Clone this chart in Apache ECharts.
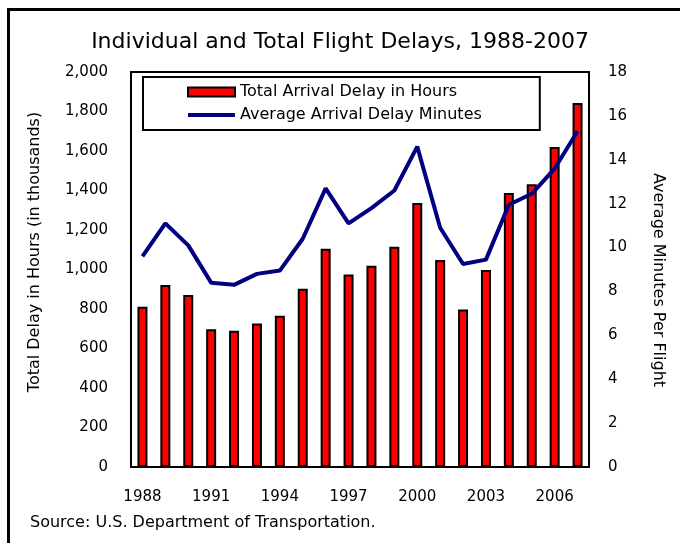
<!DOCTYPE html>
<html>
<head>
<meta charset="utf-8">
<title>Individual and Total Flight Delays, 1988-2007</title>
<script src="https://cdn.jsdelivr.net/npm/echarts@6/dist/echarts.min.js"></script>
<style>
  html, body { margin: 0; padding: 0; background: #fff; }
  .delay-wrap { position: relative; width: 680px; height: 543px; }
  #delay-chart { width: 680px; height: 543px; }
  /* frame of the original picture: only the top and left edges are visible */
  .delay-frame {
    position: absolute; left: 7px; top: 8px; width: 700px; height: 600px;
    border-left: 3px solid #000; border-top: 3px solid #000;
    pointer-events: none;
  }
</style>
</head>
<body>
<div class="delay-wrap">
  <div id="delay-chart"></div>
  <div class="delay-frame"></div>
</div>
<script>
// years on the x axis
const years = ['1988', '1989', '1990', '1991', '1992', '1993', '1994', '1995', '1996', '1997',
  '1998', '1999', '2000', '2001', '2002', '2003', '2004', '2005', '2006', '2007']
// total arrival delay, thousands of hours (bars, left axis)
const totalDelayHours = [812, 921, 871, 697, 690, 727, 766, 903, 1105, 975,
  1019, 1115, 1337, 1048, 797, 998, 1387, 1432, 1620, 1843]
// average arrival delay, minutes per flight (line, right axis)
const avgDelayMinutes = [9.6, 11.1, 10.1, 8.4, 8.3, 8.8, 8.95, 10.4, 12.7, 11.1,
  11.8, 12.6, 14.6, 10.9, 9.25, 9.45, 11.95, 12.45, 13.6, 15.3]

const font = 'DejaVu Sans, sans-serif'

const chart = echarts.init(document.getElementById('delay-chart'))
const option = {
  backgroundColor: '#fff',
  animation: false,
  textStyle: { fontFamily: font, color: '#000' },
  title: {
    text: 'Individual and Total Flight Delays, 1988-2007',
    left: 'center',
    top: 26,
    textStyle: { fontFamily: font, fontSize: 22, fontWeight: 'normal', color: '#000' }
  },
  legend: {
    data: [
      { name: 'Total Arrival Delay in Hours', icon: 'rect' },
      { name: 'Average Arrival Delay Minutes', icon: 'path://M0 0H47V4H0Z' }
    ],
    orient: 'vertical',
    left: 143,
    top: 77,
    padding: [7, 58, 7, 44],
    itemGap: 7,
    itemWidth: 47,
    itemHeight: 9,
    borderColor: '#000',
    borderWidth: 2,
    backgroundColor: '#fff',
    textStyle: { fontFamily: font, fontSize: 16, color: '#000' }
  },
  grid: {
    left: 131,
    right: 91,
    top: 72,
    bottom: 76,
    show: true,
    borderColor: '#000',
    borderWidth: 2,
    backgroundColor: '#fff'
  },
  xAxis: {
    type: 'category',
    data: years,
    axisLine: { lineStyle: { color: '#000', width: 2 } },
    axisTick: { show: false },
    axisLabel: { interval: 2, margin: 23, fontSize: 15, color: '#000', fontFamily: font }
  },
  yAxis: [
    {
      type: 'value',
      min: 0,
      max: 2000,
      interval: 200,
      axisLine: { show: false },
      axisTick: { show: false },
      splitLine: { show: false },
      axisLabel: {
        margin: 23,
        fontSize: 15,
        color: '#000',
        fontFamily: font,
        formatter(v) {
          return v >= 1000 ? Math.floor(v / 1000) + ',' + String(v % 1000).padStart(3, '0') : String(v)
        }
      }
    },
    {
      type: 'value',
      min: 0,
      max: 18,
      interval: 2,
      axisLine: { show: false },
      axisTick: { show: false },
      splitLine: { show: false },
      axisLabel: { margin: 19, fontSize: 15, color: '#000', fontFamily: font }
    }
  ],
  graphic: [
    {
      type: 'text',
      x: 35,
      y: 252,
      rotation: Math.PI / 2,
      style: {
        text: 'Total Delay in Hours (in thousands)',
        font: '16px ' + font,
        fill: '#000',
        align: 'center',
        verticalAlign: 'middle'
      }
    },
    {
      type: 'text',
      x: 658,
      y: 280,
      rotation: -Math.PI / 2,
      style: {
        text: 'Average Minutes Per Flight',
        font: '16px ' + font,
        fill: '#000',
        align: 'center',
        verticalAlign: 'middle'
      }
    },
    {
      type: 'text',
      x: 30,
      y: 523,
      style: {
        text: 'Source: U.S. Department of Transportation.',
        font: '16px ' + font,
        fill: '#000',
        align: 'left',
        verticalAlign: 'middle'
      }
    }
  ],
  series: [
    {
      name: 'Total Arrival Delay in Hours',
      type: 'bar',
      yAxisIndex: 0,
      barWidth: 10,
      data: totalDelayHours,
      itemStyle: { color: '#ff0000', borderColor: '#000', borderWidth: 2 }
    },
    {
      name: 'Average Arrival Delay Minutes',
      type: 'line',
      yAxisIndex: 1,
      symbol: 'none',
      data: avgDelayMinutes,
      lineStyle: { color: '#000080', width: 4 },
      itemStyle: { color: '#000080' }
    }
  ]
}
chart.setOption(option)
</script>
</body>
</html>
